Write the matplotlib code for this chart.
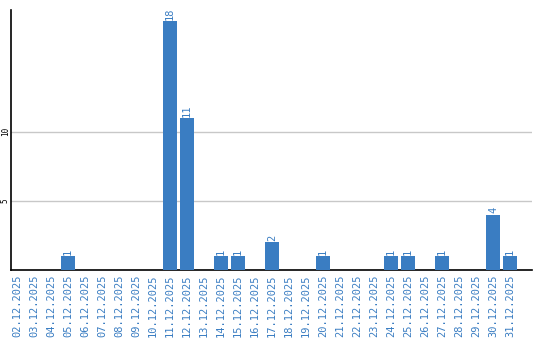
import matplotlib
matplotlib.use('Agg')
import matplotlib.pyplot as plt

# Daily counts for December 2025
dates = ['%02d.12.2025' % d for d in range(2, 32)]
counts = [0, 0, 0, 1, 0, 0, 0, 0, 0, 18, 11, 0, 1, 1, 0, 2, 0, 0, 1,
          0, 0, 0, 1, 1, 0, 1, 0, 0, 4, 1]
yticks = [5, 10]

blue = '#3a7dc2'

fig = plt.figure(figsize=(5.4, 3.4), dpi=100)
ax = fig.add_axes([0.0204, 0.206, 0.965, 0.764])

x = list(range(len(dates)))
bars = ax.bar(x, counts, width=0.82, color=blue, zorder=3)

# Value labels above non-zero bars
for xi, c in zip(x, counts):
    if c > 0:
        ax.text(xi, c + 0.1, str(c), rotation=90, ha='center', va='bottom',
                color=blue, fontsize=7.5, family='DejaVu Sans Mono')

ax.set_xlim(-0.35, 30.3)
ax.set_ylim(0, 18.8)
ax.set_xticks(x)
ax.set_xticklabels(dates, rotation=90, color=blue, fontsize=7.5,
                   family='DejaVu Sans Mono')
ax.set_yticks(yticks)
ax.set_yticklabels([str(v) for v in yticks], rotation=90, fontsize=5.5,
                   family='DejaVu Sans Mono', va='center')
ax.tick_params(axis='x', length=0, pad=3)
ax.tick_params(axis='y', length=0, pad=1)
ax.yaxis.grid(True, color='#c8c8c8', linewidth=1)
ax.set_axisbelow(True)

for s in ['top', 'right']:
    ax.spines[s].set_visible(False)
ax.spines['left'].set_linewidth(1.2)
ax.spines['bottom'].set_linewidth(1.2)

plt.savefig('out.png', dpi=100)
